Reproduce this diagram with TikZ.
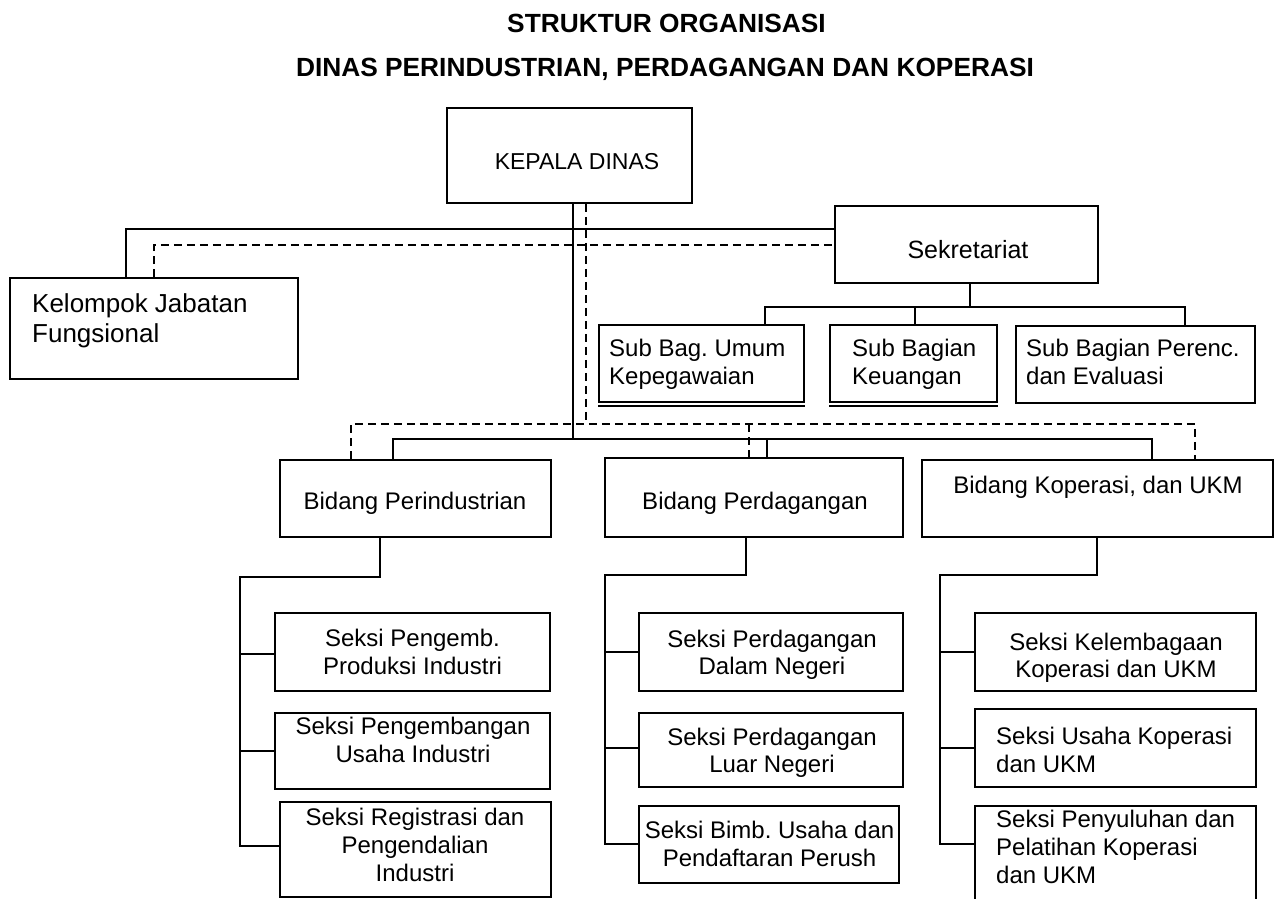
\documentclass[tikz,border=0pt]{standalone}
\usepackage{fontspec}
\setmainfont{Liberation Sans}
\frenchspacing
\begin{document}
\begin{tikzpicture}[x=1pt,y=-1pt,
  box/.style={draw, line width=1.9pt, inner sep=0pt},
  lbl/.style={inner sep=0pt, font=\fontsize{24}{27.8}\selectfont},
  ttl/.style={inner sep=0pt, anchor=base, font=\fontsize{26.3}{30}\selectfont\bfseries},
  conn/.style={line width=1.6pt},
  thinconn/.style={line width=1.3pt},
  heavyconn/.style={line width=2.5pt},
  dashconn/.style={line width=1.6pt, dash pattern=on 8pt off 5pt}]
\fill[white] (0,0) rectangle (1279,898);
\clip (0,0) rectangle (1279,898);

% titles
\node[ttl] (title1) at (666.5,32) {STRUKTUR ORGANISASI};
\node[ttl] (title2) at (665,76) {DINAS PERINDUSTRIAN, PERDAGANGAN DAN KOPERASI};

% boxes
\node[box, minimum width=245pt, minimum height=95pt] (kd) at (569.5,155.5) {};
\node[box, minimum width=263pt, minimum height=77pt] (sek) at (966.5,244.5) {};
\node[box, minimum width=288pt, minimum height=101pt] (kjf) at (154,328.5) {};
\node[box, minimum width=205pt, minimum height=77pt] (sbu) at (701.5,363.5) {};
\node[box, minimum width=167pt, minimum height=77pt] (sbk) at (913.5,363.5) {};
\node[box, minimum width=239pt, minimum height=77pt] (sbp) at (1135.5,364.5) {};
\node[box, minimum width=271pt, minimum height=77pt] (bpi) at (415.5,498.5) {};
\node[box, minimum width=298pt, minimum height=79pt] (bpd) at (754,497.5) {};
\node[box, minimum width=351pt, minimum height=77pt] (bko) at (1097.5,498.5) {};
\node[box, minimum width=275pt, minimum height=78pt] (s11) at (412.5,652) {};
\node[box, minimum width=275pt, minimum height=76pt] (s12) at (412.5,751) {};
\node[box, minimum width=271pt, minimum height=95pt] (s13) at (415.5,849.5) {};
\node[box, minimum width=264pt, minimum height=78pt] (s21) at (771,652) {};
\node[box, minimum width=264pt, minimum height=74pt] (s22) at (771,750) {};
\node[box, minimum width=260pt, minimum height=77pt] (s23) at (769,844.5) {};
\node[box, minimum width=281pt, minimum height=78pt] (s31) at (1115.5,652) {};
\node[box, minimum width=281pt, minimum height=78pt] (s32) at (1115.5,748) {};
\node[box, minimum width=281pt, minimum height=114pt] (s33) at (1115.5,863) {};

% double bottom lines
\draw[conn] ([yshift=-3pt]sbu.south west) -- ([yshift=-3pt]sbu.south east);
\draw[conn] ([yshift=-3pt]sbk.south west) -- ([yshift=-3pt]sbk.south east);

% texts
\node[lbl, font=\fontsize{23}{27}\selectfont] (tkd) at (577,161.8) {KEPALA DINAS};
\node[lbl, font=\fontsize{25}{29}\selectfont] (tsek) at (968,250) {Sekretariat};
\node[lbl, font=\fontsize{26}{30}\selectfont, anchor=west, align=left] (tkjf) at (32,321) {Kelompok Jabatan\\Fungsional};
\node[lbl, anchor=west, align=left] (tsbu) at (609,364) {Sub Bag. Umum\\Kepegawaian};
\node[lbl, anchor=west, align=left] (tsbk) at (852,364) {Sub Bagian\\Keuangan};
\node[lbl, anchor=west, align=left] (tsbp) at (1026,362) {Sub Bagian Perenc.\\dan Evaluasi};
\node[lbl] (tbpi) at (415,502.8) {Bidang Perindustrian};
\node[lbl] (tbpd) at (755,502.8) {Bidang Perdagangan};
\node[lbl] (tbko) at (1098,486.8) {Bidang Koperasi, dan UKM};
\node[lbl, align=center] (ts11) at (412.5,652.3) {Seksi Pengemb.\\Produksi Industri};
\node[lbl, align=center] (ts12) at (413,740.3) {Seksi Pengembangan\\Usaha Industri};
\node[lbl, align=center] (ts13) at (415,844.8) {Seksi Registrasi dan\\Pengendalian\\Industri};
\node[lbl, align=center] (ts21) at (772,654.8) {Seksi Perdagangan\\Dalam Negeri};
\node[lbl, align=center] (ts22) at (772,752.8) {Seksi Perdagangan\\Luar Negeri};
\node[lbl, align=center] (ts23) at (769.5,843.8) {Seksi Bimb. Usaha dan\\Pendaftaran Perush};
\node[lbl, align=center] (ts31) at (1116,657.8) {Seksi Kelembagaan\\Koperasi dan UKM};
\node[lbl, anchor=west, align=left] (ts32) at (996,750.3) {Seksi Usaha Koperasi\\dan UKM};
\node[lbl, anchor=west, align=left] (ts33) at (996,846.8) {Seksi Penyuluhan dan\\Pelatihan Koperasi\\dan UKM};

% junction coordinates
\coordinate (jmain) at (573,439);
\coordinate (hb1) at (393,439);
\coordinate (hb2) at (767,439);
\coordinate (hb3) at (1152,439);
\coordinate (hk) at (126,229);
\coordinate (dj) at (586,424);
\coordinate (dl) at (351,424);
\coordinate (dm) at (749,424);
\coordinate (dr) at (1195,424);
\coordinate (dk) at (154,245);
\coordinate (sj) at (970,307);
\coordinate (sl) at (765,307);
\coordinate (sm) at (915,307);
\coordinate (sr) at (1185,307);
\coordinate (p1) at (380,577);
\coordinate (p2) at (240,577);
\coordinate (pb1) at (240,654);
\coordinate (pb2) at (240,751);
\coordinate (p3) at (240,846);
\coordinate (q1) at (746,575);
\coordinate (q2) at (605,575);
\coordinate (qb1) at (605,652);
\coordinate (qb2) at (605,748);
\coordinate (q3) at (605,844);
\coordinate (k1) at (1097,575);
\coordinate (k2) at (940,575);
\coordinate (kb1) at (940,652);
\coordinate (kb2) at (940,748);
\coordinate (k3) at (940,844);

% solid lines from Kepala Dinas
\draw[conn] (kd.south -| jmain) -- (jmain);
\draw[conn] (bpi.north -| hb1) -- (hb1) -- (hb3) -- (bko.north -| hb3);
\draw[conn] (hb2) -- (bpd.north -| hb2);
\draw[conn] (kjf.north -| hk) -- (hk) -- (sek.west |- hk);

% dashed lines
\draw[dashconn] (kd.south -| dj) -- (dj);
\draw[dashconn] (bpi.north -| dl) -- (dl) -- (dr) -- (bko.north -| dr);
\draw[dashconn] (dm) -- (bpd.north -| dm);
\draw[dashconn] (kjf.north -| dk) -- (dk) -- (sek.west |- dk);

% sekretariat
\draw[thinconn] (sek.south -| sj) -- (sj);
\draw[thinconn] (sbu.north -| sl) -- (sl) -- (sr) -- (sbp.north -| sr);
\draw[conn] (sm) -- (sbk.north -| sm);

% bidang perindustrian
\draw[thinconn] (bpi.south -| p1) -- (p1) -- (p2) -- (p3) -- (s13.west |- p3);
\draw[thinconn] (pb1) -- (s11.west |- pb1);
\draw[thinconn] (pb2) -- (s12.west |- pb2);

% bidang perdagangan
\draw[heavyconn] (bpd.south -| q1) -- (q1) -- (q2) -- (q3) -- (s23.west |- q3);
\draw[heavyconn] (qb1) -- (s21.west |- qb1);
\draw[heavyconn] (qb2) -- (s22.west |- qb2);

% bidang koperasi
\draw[heavyconn] (bko.south -| k1) -- (k1) -- (k2) -- (k3) -- (s33.west |- k3);
\draw[heavyconn] (kb1) -- (s31.west |- kb1);
\draw[heavyconn] (kb2) -- (s32.west |- kb2);
\end{tikzpicture}
\end{document}
